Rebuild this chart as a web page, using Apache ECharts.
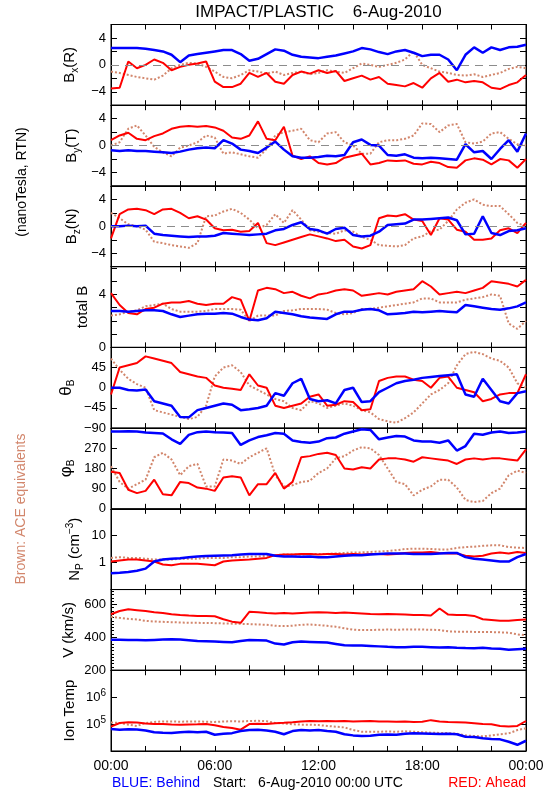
<!DOCTYPE html>
<html><head><meta charset="utf-8">
<script src="https://cdn.jsdelivr.net/npm/echarts@6/dist/echarts.min.js"></script>
<style>html,body{margin:0;padding:0;background:#fff}#c{width:550px;height:800px}</style>
</head><body><div id="c"></div>
<script>
// time in hours after 6-Aug-2010 00:00 UTC
const hours = [0,0.5,1,1.5,2,2.5,3,3.5,4,4.5,5,5.5,6,6.5,7,7.5,8,8.5,9,9.5,10,10.5,11,11.5,12,12.5,13,13.5,14,14.5,15,15.5,16,16.5,17,17.5,18,18.5,19,19.5,20,20.5,21,21.5,22,22.5,23,23.5,24];
const timeLabels = ['00:00','06:00','12:00','18:00','00:00'];

// Bx(R)
const bxBlue = [2.5,2.5,2.5,2.5,2.4,2.2,2.0,1.5,0.4,1.4, 1.6,1.8,2.0,2.2,2.2,1.6,0.6,0.9,1.6,2.3, 2.1,1.5,1.2,1.1,1.0,1.2,1.4,1.7,2.0,2.5, 2.3,1.9,1.6,2.0,2.2,1.8,1.3,1.5,1.5,0.8, -0.8,1.5,2.6,1.8,2.6,2.2,2.6,2.7,3.0];
const bxRed = [-3.5,-3.4,0.5,-0.5,0.0,0.8,0.3,-0.8,-0.3,0.0, 0.2,0.5,-2.5,-3.3,-3.3,-2.8,-1.2,-1.8,-1.2,-2.5, -2.8,-1.5,-1.0,-1.3,-0.8,-1.2,-0.9,-2.4,-2.0,-1.6, -2.2,-1.8,-2.8,-3.0,-3.2,-2.7,-3.4,-2.0,-1.2,-2.5, -2.2,-2.6,-2.4,-2.6,-3.4,-3.6,-3.0,-2.6,-1.5];
const bxBrown = [-1.0,-1.2,-1.5,-1.8,-2.0,-2.2,-1.6,-0.5,0.0,0.3, 0.2,-0.3,-1.0,-1.8,-2.0,-1.5,-0.8,-1.0,-1.3,-1.0, -1.5,-1.2,-1.0,-1.4,-1.2,-0.8,-1.0,-1.2,-0.5,0.2, 0.0,-0.3,0.0,0.3,0.8,2.0,0.0,-0.5,-1.0,-1.2, -1.5,-1.6,-1.4,-1.8,-1.5,-1.2,-0.6,-0.3,-0.5];
// By(T)
const byBlue = [-0.7,-0.8,-0.7,-0.8,-0.8,-0.9,-1.0,-1.1,-0.9,-0.6, -0.4,-0.3,-0.4,0.8,0.3,-0.6,-0.8,-1.1,-0.3,0.6, -0.6,-1.6,-1.8,-1.8,-1.7,-1.5,-1.6,-1.4,0.5,0.9, 0.1,0.0,-1.4,-1.5,-1.3,-1.8,-1.9,-1.8,-1.9,-2.0, -2.1,0.2,-1.0,-0.8,-2.0,-0.5,0.8,-0.9,1.8];
const byRed = [0.8,1.5,1.9,1.0,0.8,1.4,1.8,2.5,2.8,2.9, 2.8,2.9,2.7,2.2,1.2,1.0,1.5,3.6,1.0,0.8, 2.8,-1.5,-2.0,-1.6,-2.6,-2.8,-2.6,-1.8,-1.5,-1.2, -2.8,-2.6,-2.2,-2.3,-2.2,-2.7,-2.8,-2.4,-2.6,-3.2, -3.3,-2.2,-1.9,-2.1,-2.8,-2.0,-2.2,-3.3,-2.0];
const byBrown = [0.0,0.5,2.5,3.0,1.5,-0.2,-1.0,-1.6,-0.3,0.0, 0.5,1.5,1.2,-1.2,-1.0,-1.3,-1.6,-1.8,-0.5,1.5, 2.0,2.2,2.5,0.8,0.5,1.8,2.0,0.5,0.0,-1.2, -1.2,0.5,0.8,0.8,1.0,1.5,3.3,3.2,2.0,3.0, 3.2,0.5,0.3,0.6,1.8,2.0,1.0,0.2,0.0];
// Bz(N)
const bzBlue = [0.0,0.0,0.1,0.0,0.1,-1.1,-1.3,-1.4,-1.5,-1.6, -1.5,-1.5,-1.4,-1.0,-1.1,-1.2,-1.3,-1.2,-1.1,-0.6, -0.4,0.2,0.6,-0.4,-0.6,-1.1,-0.4,-0.2,-1.3,-1.5, -1.4,-0.8,0.2,0.3,0.4,1.0,1.0,1.1,1.2,1.3, 0.9,-1.2,-1.1,1.5,-1.0,-1.3,-0.7,-0.6,-0.3];
const bzRed = [-1.8,1.8,2.5,2.6,2.4,1.8,2.5,2.6,2.0,1.2, 1.5,1.0,-0.3,-0.6,-0.5,-0.8,-0.7,0.5,-2.5,-2.8, -2.4,-2.0,-1.6,-1.2,-1.5,-1.8,-2.2,-2.0,-3.0,-3.3, -2.8,1.2,1.6,1.5,1.8,1.0,0.8,-1.3,1.2,1.0, -0.5,-0.8,-2.0,-2.0,-1.8,-0.6,-0.3,-1.0,0.5];
const bzBrown = [2.0,1.2,0.3,0.0,-0.5,-2.3,-2.5,-2.8,-3.0,-3.2, -2.5,1.5,1.6,2.2,2.6,2.0,1.0,-0.3,0.2,1.8, 0.5,2.4,1.0,-0.6,-0.8,-1.0,-1.1,-0.6,-0.8,-1.6, -2.0,-2.8,-2.9,-3.0,-2.8,-1.8,-1.5,-0.7,-0.5,0.8, 2.5,3.5,4.0,3.2,3.0,3.0,1.8,0.5,0.0];
// total B
const btBlue = [2.75,2.75,2.7,2.75,2.8,2.8,2.75,2.5,2.3,2.4, 2.5,2.55,2.55,2.6,2.55,2.3,2.1,2.05,2.2,2.7, 2.6,2.5,2.35,2.25,2.2,2.15,2.5,2.7,2.7,2.85, 2.9,2.8,2.5,2.55,2.6,2.7,2.65,2.7,2.75,2.7, 2.65,3.2,3.1,3.0,2.9,2.85,2.95,3.1,3.4];
const btRed = [4.1,3.2,2.6,2.5,2.9,3.0,3.3,3.4,3.4,3.5, 3.3,3.2,3.3,3.3,3.8,3.6,2.0,4.3,4.5,4.4, 4.1,4.2,3.9,3.7,4.0,4.1,4.3,4.4,4.3,3.9, 4.0,4.1,4.0,4.2,4.3,4.4,5.0,4.6,4.0,4.1, 4.2,4.1,4.3,4.5,5.0,4.9,4.8,4.6,5.1];
const btBrown = [2.4,2.5,2.7,2.8,3.1,3.2,3.3,2.9,2.7,2.7, 2.7,2.75,2.9,2.9,2.9,2.85,2.0,2.4,2.4,2.4, 2.75,2.8,2.9,2.9,2.9,2.85,2.6,2.5,2.6,2.9, 2.9,3.0,3.1,3.2,3.3,3.4,3.7,3.7,3.4,3.4, 3.4,3.6,3.7,3.8,4.0,3.9,1.8,1.4,2.0];
// theta_B
const thBlue = [0,0,-5,-6,-4,-30,-35,-40,-65,-66, -50,-45,-40,-35,-38,-50,-48,-45,-40,-12, -18,10,20,-25,-30,-28,-35,-5,0,-32, -30,-10,0,10,15,18,22,24,26,28, 30,-15,-20,20,-5,-30,-35,-12,-8];
const thRed = [-15,45,50,55,70,65,60,55,35,30, 25,22,5,0,-2,-5,30,5,0,-40, -45,-40,-35,-20,-15,-40,-38,-30,-32,-50, -48,15,22,25,25,18,15,0,22,25, 0,-5,-10,-30,-25,-15,-12,-12,30];
const thBrown = [65,40,20,8,0,-50,-55,-60,-65,-70, -65,-40,25,45,50,35,5,-5,-15,-25, -30,-45,-50,-30,-35,-45,-40,-35,-40,-50, -55,-70,-75,-78,-68,-55,-35,-15,-5,10, 50,75,80,75,65,60,45,10,0];
// phi_B
const phBlue = [345,345,346,345,340,338,336,310,290,330, 342,345,342,340,338,285,305,320,328,338, 335,305,298,295,300,315,318,335,345,355, 352,310,318,325,322,305,300,300,295,305, 260,280,335,330,340,345,338,340,345];
const phRed = [165,160,85,70,80,130,65,60,120,115, 95,90,80,140,145,140,60,110,110,160, 90,120,230,235,245,250,240,180,175,185, 180,220,225,225,220,210,230,225,220,215, 200,220,225,220,225,225,220,215,265];
const phBrown = [190,120,90,110,130,230,250,220,150,190, 200,100,100,220,215,200,230,250,270,150, 100,105,120,125,160,180,225,235,260,275, 270,240,180,120,110,60,85,100,130,130, 95,40,30,35,70,90,150,170,160];
// Np (cm^-3)
const npBlue = [0.4,0.42,0.45,0.5,0.6,1.1,1.3,1.4,1.45,1.6, 1.7,1.75,1.8,1.85,1.9,2.0,2.1,2.1,2.1,1.8, 1.7,1.7,1.65,1.7,1.6,1.6,1.7,1.8,1.9,1.9, 2.0,2.1,2.2,2.2,2.2,2.1,2.1,2.1,2.2,2.3, 2.3,1.6,1.4,1.3,1.2,1.1,1.1,1.6,2.1];
const npRed = [1.1,1.2,1.3,1.3,1.2,1.1,0.85,0.8,0.9,0.9, 0.9,0.85,0.8,1.1,1.2,1.25,1.3,1.4,1.5,1.9, 2.0,2.0,2.1,2.1,2.0,2.1,2.1,2.0,2.1,2.0, 2.1,2.1,2.0,2.1,2.3,2.4,2.4,2.5,2.3,2.2, 2.2,1.8,1.7,1.8,2.2,2.4,2.2,2.5,2.3];
const npBrown = [1.5,1.6,1.5,1.5,1.4,1.3,1.3,1.3,1.4,1.4, 1.4,1.5,1.5,1.5,1.6,1.6,1.7,1.7,1.8,1.9, 2.0,2.0,2.0,2.1,2.1,2.1,2.2,2.3,2.4,2.4, 2.5,2.6,2.7,2.9,3.2,3.3,3.3,3.2,3.1,3.1, 3.5,3.8,3.9,4.2,4.4,4.4,3.8,3.6,3.5];
// V (km/s)
const vBlue = [385,385,384,383,382,384,386,388,386,382, 378,376,374,372,370,378,383,382,380,362, 356,370,374,372,370,368,360,352,350,350, 348,345,342,340,340,342,342,340,338,340, 337,335,334,336,332,330,325,328,330];
const vRed = [540,560,570,565,560,552,548,540,535,532, 530,530,528,510,495,488,555,552,548,545, 548,545,548,550,552,550,548,550,548,545, 542,540,542,540,538,535,535,532,575,538, 535,535,530,510,505,500,500,505,508];
const vBrown = [525,518,512,508,500,496,494,492,490,488, 488,487,486,484,483,482,480,478,476,470, 468,470,476,478,474,470,464,455,446,444, 444,446,447,446,447,448,447,446,444,436, 434,434,433,432,432,430,428,418,412];
// Ion Temp (K)
const tBlue = [65000,62000,64000,63000,58000,50000,48000,47000,50000,52000, 50000,52000,40000,44000,46000,55000,60000,62000,58000,52000, 42000,55000,60000,58000,60000,55000,52000,42000,38000,36000, 37000,40000,41000,40000,44000,46000,45000,44000,43000,44000, 42000,34000,33000,30000,28000,27000,22000,17000,24000];
const tRed = [80000,110000,118000,115000,105000,100000,100000,96000,95000,97000, 98000,100000,90000,78000,72000,62000,100000,102000,100000,108000, 112000,118000,125000,130000,128000,130000,128000,130000,125000,128000, 130000,125000,125000,122000,125000,120000,122000,140000,125000,120000, 118000,115000,108000,100000,98000,85000,82000,85000,130000];
const tBrown = [115000,110000,95000,85000,110000,120000,125000,125000,122000,125000, 125000,122000,120000,125000,128000,125000,130000,132000,128000,110000, 105000,98000,95000,95000,92000,85000,80000,75000,60000,52000, 52000,52000,53000,52000,54000,52000,50000,48000,47000,46000, 44000,38000,36000,35000,38000,42000,45000,60000,70000];

// tick labels per panel
const bLabels = [-4, 0, 4];
const totLabels = [0, 4];
const thLabels = [-90, -45, 0, 45];
const phLabels = [0, 90, 180, 270];
const npLabels = [1, 10];
const vLabels = [200, 400, 600];
const tLabels = [1e5, 1e6];
const tExp = ['5', '6'];

const FONT = "'Liberation Sans', Arial, sans-serif";
const BLUE = '#0000ff', RED = '#ff0000', BROWN = '#d2866c';
const TOP = 24.5, H = 80.72, LEFT = 111, W = 415;

const panels = [
  {type:'value', min:-6, max:6, interval:2, labels:bLabels, zero:true, d:[bxBrown,bxRed,bxBlue],
   name:'{m|B}{s|x}{m|(R)}', nx:70},
  {type:'value', min:-6, max:6, interval:2, labels:bLabels, zero:true, d:[byBrown,byRed,byBlue],
   name:'{m|B}{s|y}{m|(T)}', nx:72},
  {type:'value', min:-6, max:6, interval:2, labels:bLabels, zero:true, d:[bzBrown,bzRed,bzBlue],
   name:'{m|B}{s|z}{m|(N)}', nx:72},
  {type:'value', min:0, max:6.1, interval:1, labels:totLabels, d:[btBrown,btRed,btBlue],
   name:'{m|total B}', nx:83},
  {type:'value', min:-90, max:90, interval:45, labels:thLabels, d:[thBrown,thRed,thBlue],
   name:'{g|θ}{s|B}', nx:66},
  {type:'value', min:0, max:360, interval:90, labels:phLabels, d:[phBrown,phRed,phBlue],
   name:'{g|φ}{s|B}', nx:66},
  {type:'log', min:0.1, max:100, labels:npLabels, d:[npBrown,npRed,npBlue],
   name:'{m|N}{s|P}{m| (cm}{p|−3}{m|)}', nx:75},
  {type:'value', min:200, max:690, interval:200, minor:true, labels:vLabels, d:[vBrown,vRed,vBlue],
   name:'{m|V (km/s)}', nx:69},
  {type:'log', min:1e4, max:1e7, labels:tLabels, d:[tBrown,tRed,tBlue],
   name:'{m|Ion Temp}', nx:70, sup:true}
];

function near(a, b) { return Math.abs(a - b) <= 1e-6 * Math.max(1, Math.abs(b)); }
function yFmt(p) {
  return function (v) {
    const idx = p.labels.findIndex(l => near(v, l));
    if (idx < 0) return '';
    if (p.sup) return '{b|10}{e|' + tExp[idx] + '}';
    return String(p.labels[idx]).replace('-', '−');
  };
}

const grids = [], xAxes = [], yAxes = [], series = [], graphics = [];
panels.forEach((p, i) => {
  const top = TOP + i * H;
  grids.push({left: LEFT, width: W, top: top, height: H, show: true, borderColor: '#000', borderWidth: 1,
    backgroundColor: 'transparent', containLabel: false, outerBoundsMode: 'none'});
  const tick = {show: true, inside: true, length: 5, lineStyle: {color: '#000', width: 1}};
  xAxes.push({gridIndex: i, type: 'value', min: 0, max: 24, interval: 2, position: 'bottom',
    axisLine: {show: true, onZero: false, lineStyle: {color: '#000'}}, axisTick: tick, splitLine: {show: false},
    axisLabel: {show: i === panels.length - 1, color: '#000', fontFamily: FONT, fontSize: 14, margin: 8,
      formatter: v => (v % 6 === 0 ? timeLabels[v / 6] : '')}});
  xAxes.push({gridIndex: i, type: 'value', min: 0, max: 24, interval: 2, position: 'top',
    axisLine: {show: true, onZero: false, lineStyle: {color: '#000'}}, axisTick: tick, splitLine: {show: false},
    axisLabel: {show: false}});
  const ybase = {gridIndex: i, type: p.type, min: p.min, max: p.max, splitLine: {show: false},
    axisLine: {show: true, onZero: false, lineStyle: {color: '#000'}},
    axisTick: {show: true, inside: true, length: 6, lineStyle: {color: '#000'}},
    minorTick: {show: !!p.minor, splitNumber: 10, length: 3, lineStyle: {color: '#000'}},
    minorSplitLine: {show: false}};
  if (p.interval) ybase.interval = p.interval;
  if (p.type === 'log') ybase.logBase = 10;
  yAxes.push(Object.assign({}, ybase, {position: 'left',
    axisLabel: {show: true, color: '#000', fontFamily: FONT, fontSize: 13, margin: 5, formatter: yFmt(p),
      showMinLabel: true, showMaxLabel: true,
      rich: {
        b: {fontFamily: FONT, fontSize: 13, lineHeight: 18, verticalAlign: 'middle', color: '#000'},
        e: {fontFamily: FONT, fontSize: 10, lineHeight: 10, verticalAlign: 'top', color: '#000'}
      }}}));
  yAxes.push(Object.assign({}, ybase, {position: 'right', axisLabel: {show: false}}));
  const cols = [BROWN, RED, BLUE];
  const widths = [2, 2, 2.5];
  p.d.forEach((arr, k) => {
    const s = {type: 'line', xAxisIndex: 2 * i, yAxisIndex: 2 * i, showSymbol: false, symbol: 'none',
      animation: false, silent: true, z: 2 + k, clip: true,
      data: hours.map((h, j) => [h, arr[j]]),
      lineStyle: {color: cols[k], width: widths[k], type: k === 0 ? [2, 2] : 'solid'}};
    if (k === 0 && p.zero) {
      s.markLine = {silent: true, symbol: ['none', 'none'], label: {show: false}, animation: false,
        lineStyle: {color: '#8c8c8c', type: [8, 6], width: 1}, data: [{yAxis: 0}]};
    }
    series.push(s);
  });
  graphics.push({type: 'text', x: p.nx, y: top + H / 2, rotation: Math.PI / 2, silent: true,
    style: {text: p.name, align: 'center', verticalAlign: 'middle', fill: '#000',
      rich: {
        m: {fontFamily: FONT, fontSize: 15, lineHeight: 20, verticalAlign: 'middle', fill: '#000'},
        g: {fontFamily: FONT, fontSize: 17, lineHeight: 20, verticalAlign: 'middle', fill: '#000'},
        s: {fontFamily: FONT, fontSize: 10, lineHeight: 8, verticalAlign: 'bottom', fill: '#000'},
        p: {fontFamily: FONT, fontSize: 10, lineHeight: 8, verticalAlign: 'top', fill: '#000'}
      }}});
});

graphics.push({type: 'text', x: 318.5, y: 12, silent: true,
  style: {text: 'IMPACT/PLASTIC    6-Aug-2010', align: 'center', verticalAlign: 'middle',
    font: "17px " + FONT, fill: '#000'}});
graphics.push({type: 'text', x: 22, y: 182, rotation: Math.PI / 2, silent: true,
  style: {text: '(nanoTesla, RTN)', align: 'center', verticalAlign: 'middle', font: "14px " + FONT, fill: '#000'}});
graphics.push({type: 'text', x: 21, y: 509, rotation: Math.PI / 2, silent: true,
  style: {text: 'Brown: ACE equivalents', align: 'center', verticalAlign: 'middle', font: "14px " + FONT, fill: BROWN}});
graphics.push({type: 'text', x: 112, y: 783, silent: true,
  style: {text: 'BLUE: Behind', align: 'left', verticalAlign: 'middle', font: "14px " + FONT, fill: BLUE}});
graphics.push({type: 'text', x: 213, y: 783, silent: true,
  style: {text: 'Start:   6-Aug-2010 00:00 UTC', align: 'left', verticalAlign: 'middle', font: "14px " + FONT, fill: '#000'}});
graphics.push({type: 'text', x: 526, y: 783, silent: true,
  style: {text: 'RED: Ahead', align: 'right', verticalAlign: 'middle', font: "14px " + FONT, fill: RED}});

const chart = echarts.init(document.getElementById('c'), null, {renderer: 'canvas'});
chart.setOption({
  animation: false,
  backgroundColor: '#fff',
  grid: grids, xAxis: xAxes, yAxis: yAxes, series: series, graphic: graphics
});
</script></body></html>
